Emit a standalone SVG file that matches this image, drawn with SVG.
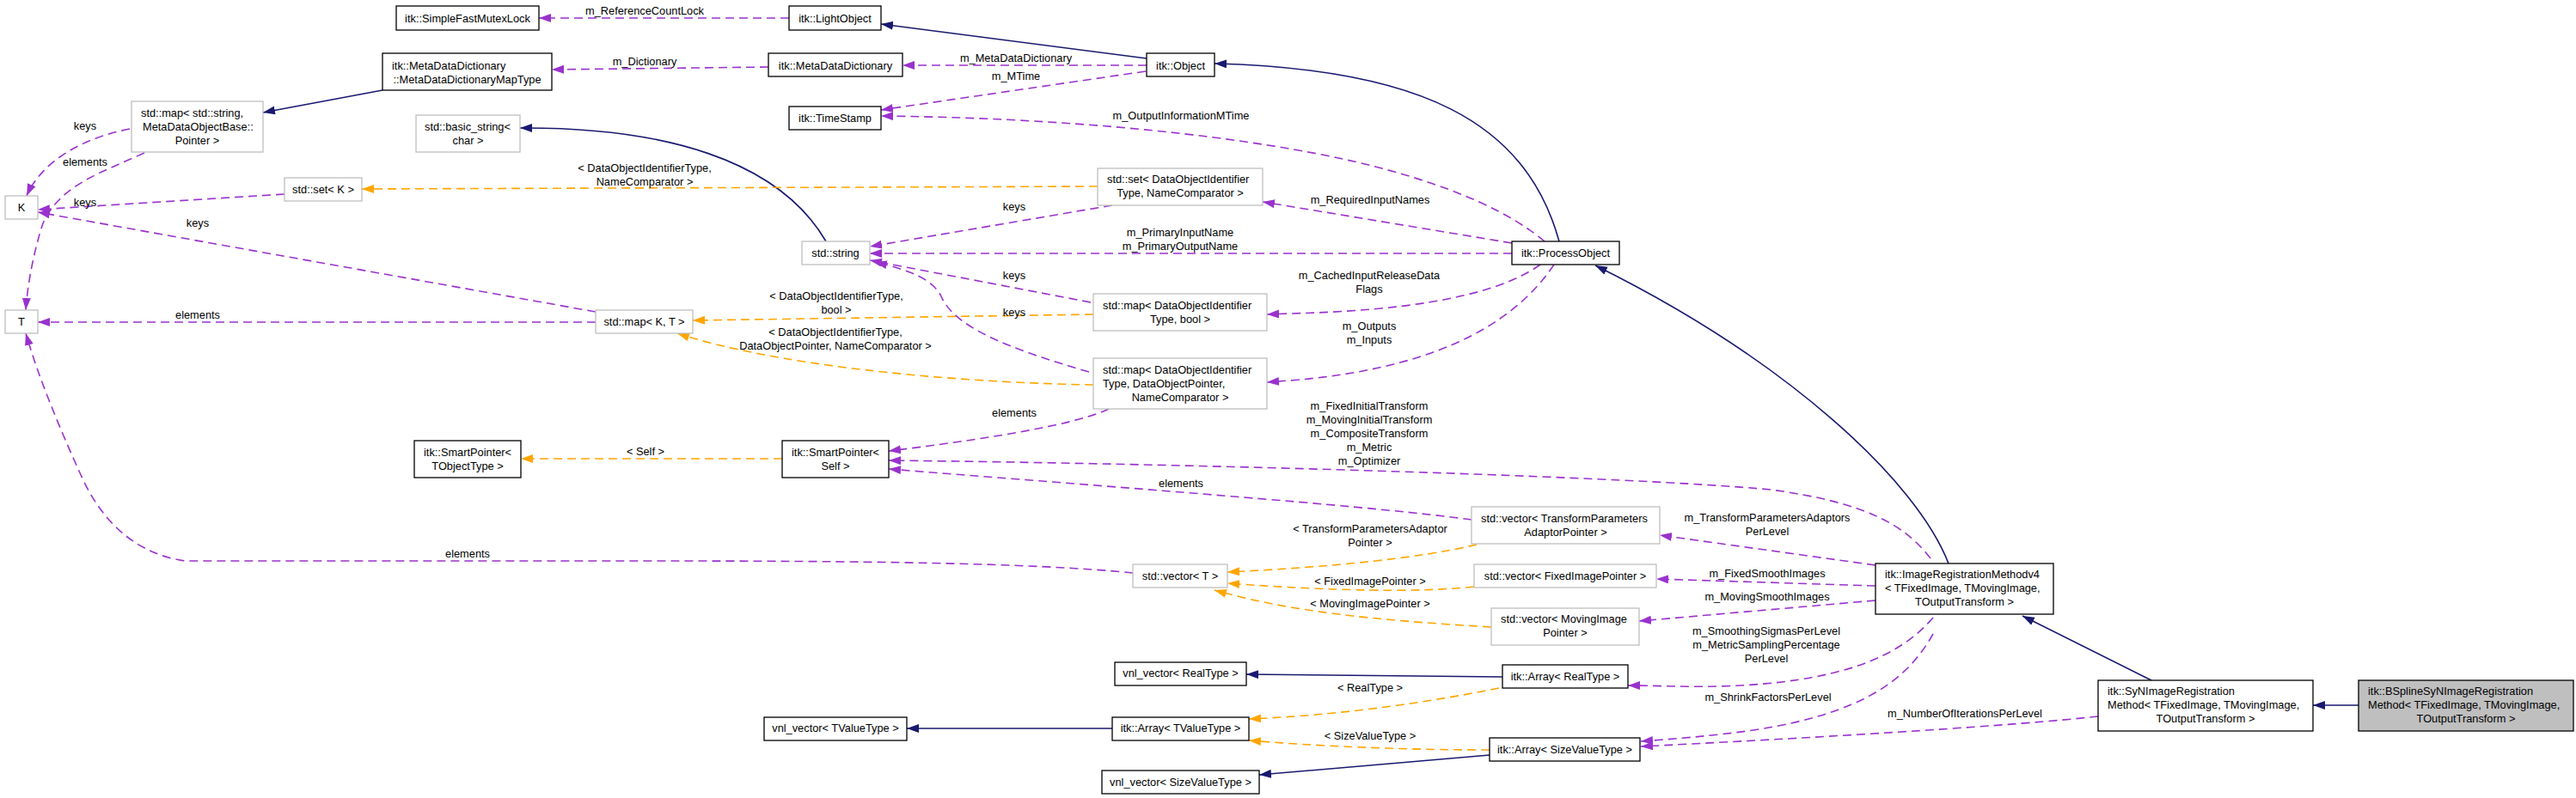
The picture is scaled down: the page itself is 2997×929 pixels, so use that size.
<svg xmlns="http://www.w3.org/2000/svg" width="2997" height="929" viewBox="0 0 2997 929">
<style>
.n rect{fill:#fff;stroke:#000;stroke-width:1.3}
.g rect{fill:#fff;stroke:#bfbfbf;stroke-width:1.3}
.h rect{fill:#bfbfbf;stroke:#000;stroke-width:1.3}
text{font-family:"Liberation Sans",Arial,sans-serif;font-size:12.8px;fill:#000}
.c{text-anchor:middle}
.p{fill:none;stroke:#9a32cd;stroke-width:1.6;stroke-dasharray:10,6;marker-end:url(#ap)}
.o{fill:none;stroke:#ffa500;stroke-width:1.6;stroke-dasharray:10,6;marker-end:url(#ao)}
.b{fill:none;stroke:#191970;stroke-width:1.6;marker-end:url(#ab)}
</style>
<defs>
<marker id="ap" markerUnits="userSpaceOnUse" markerWidth="15" markerHeight="11" refX="14" refY="5" orient="auto"><path d="M0,0 L14,5 L0,10 Z" fill="#9a32cd"/></marker>
<marker id="ao" markerUnits="userSpaceOnUse" markerWidth="15" markerHeight="11" refX="14" refY="5" orient="auto"><path d="M0,0 L14,5 L0,10 Z" fill="#ffa500"/></marker>
<marker id="ab" markerUnits="userSpaceOnUse" markerWidth="15" markerHeight="11" refX="14" refY="5" orient="auto"><path d="M0,0 L14,5 L0,10 Z" fill="#191970"/></marker>
</defs>
<rect width="2997" height="929" fill="#fff"/>
<g id="edges">
<path class="p" d="M918,21 L627,21"/><text class="c" x="750" y="17">m_ReferenceCountLock</text>
<path class="b" d="M1334,68 L1025,28"/>
<path class="p" d="M1334,76 L1050,76"/><text class="c" x="1182" y="72">m_MetaDataDictionary</text>
<path class="p" d="M1333,83 L1025,128"/><text class="c" x="1182" y="93">m_MTime</text>
<path class="p" d="M894,78 L642,81"/><text class="c" x="750" y="76">m_Dictionary</text>
<path class="b" d="M445,105 L306,131"/>
<path class="b" d="M961,281 C905,185 770,148 605,149"/>
<path class="o" d="M1277,217 L421,220"/><text class="c" x="750" y="200">&lt; DataObjectIdentifierType,</text><text class="c" x="750" y="216">NameComparator &gt;</text>
<path class="p" d="M1294,239 L1012,287"/><text class="c" x="1180" y="245">keys</text>
<path class="p" d="M1759,295 L1012,295"/><text class="c" x="1373" y="275">m_PrimaryInputName</text><text class="c" x="1373" y="291">m_PrimaryOutputName</text>
<path class="p" d="M1797,281 C1760,250 1700,220 1600,194 C1500,168 1300,138 1025,135"/><text class="c" x="1374" y="139">m_OutputInformationMTime</text>
<path class="p" d="M1759,283 L1469,235"/><text class="c" x="1594" y="237">m_RequiredInputNames</text>
<path class="p" d="M1792,308 Q1720,360 1500,365 L1474,366"/><text class="c" x="1593" y="325">m_CachedInputReleaseData</text><text class="c" x="1593" y="341">Flags</text>
<path class="p" d="M1808,308 Q1730,425 1500,443 L1474,445"/><text class="c" x="1593" y="383.5">m_Outputs</text><text class="c" x="1593" y="399.5">m_Inputs</text>
<path class="b" d="M1814,281 C1775,140 1650,80 1413,74"/>
<path class="p" d="M1269,352 L1012,303"/><text class="c" x="1180" y="325">keys</text>
<path class="o" d="M1272,366 L806,373"/><text class="c" x="973" y="349">&lt; DataObjectIdentifierType,</text><text class="c" x="973" y="365">bool &gt;</text>
<path class="p" d="M1267,433 C1170,405 1110,380 1095,345 C1085,325 1060,315 1018,305"/><text class="c" x="1180" y="368">keys</text>
<path class="o" d="M1272,448 C1100,445 900,425 788,388"/><text class="c" x="972" y="391">&lt; DataObjectIdentifierType,</text><text class="c" x="972" y="407">DataObjectPointer, NameComparator &gt;</text>
<path class="p" d="M693,363 L44,247"/><text class="c" x="230" y="264">keys</text>
<path class="p" d="M693,375 L44,375"/><text class="c" x="230" y="371">elements</text>
<path class="p" d="M331,226 L44,244"/><text class="c" x="99" y="240">keys</text>
<path class="p" d="M151,150 C100,160 50,185 31,228"/><text class="c" x="99" y="151">keys</text>
<path class="p" d="M168,178 C120,200 70,215 50,260 C40,290 32,330 30,361"/><text class="c" x="99" y="193">elements</text>
<path class="p" d="M1318,667 C1200,655 1000,653 750,653 L215,653 C160,645 120,610 95,555 C70,500 45,440 30,388"/><text class="c" x="544" y="649">elements</text>
<path class="o" d="M910,534 L606,534"/><text class="c" x="751" y="530">&lt; Self &gt;</text>
<path class="p" d="M1290,476 Q1240,500 1034,525"/><text class="c" x="1180" y="485">elements</text>
<path class="p" d="M2246,650 C2215,610 2170,585 2060,570 C1900,555 1400,540 1034,536"/><text class="c" x="1593" y="477">m_FixedInitialTransform</text><text class="c" x="1593" y="493">m_MovingInitialTransform</text><text class="c" x="1593" y="509">m_CompositeTransform</text><text class="c" x="1593" y="525">m_Metric</text><text class="c" x="1593" y="541">m_Optimizer</text>
<path class="p" d="M1712,605 C1600,590 1400,575 1034,546"/><text class="c" x="1374" y="567">elements</text>
<path class="o" d="M1718,634 C1650,650 1550,660 1428,666"/><text class="c" x="1594" y="619.5">&lt; TransformParametersAdaptor</text><text class="c" x="1594" y="635.5">Pointer &gt;</text>
<path class="o" d="M1715,683 C1650,690 1550,688 1428,679"/><text class="c" x="1594" y="681">&lt; FixedImagePointer &gt;</text>
<path class="o" d="M1735,730 C1600,722 1500,712 1413,687"/><text class="c" x="1594" y="707">&lt; MovingImagePointer &gt;</text>
<path class="p" d="M2182,658 L1931,623"/><text class="c" x="2056" y="607">m_TransformParametersAdaptors</text><text class="c" x="2056" y="623">PerLevel</text>
<path class="p" d="M2182,682 L1927,674"/><text class="c" x="2056" y="672">m_FixedSmoothImages</text>
<path class="p" d="M2182,699 L1907,723"/><text class="c" x="2056" y="699">m_MovingSmoothImages</text>
<path class="p" d="M2249,719 C2210,765 2140,795 2000,799 C1960,800 1930,798 1894,798"/><text class="c" x="2055" y="739">m_SmoothingSigmasPerLevel</text><text class="c" x="2055" y="755">m_MetricSamplingPercentage</text><text class="c" x="2055" y="771">PerLevel</text>
<path class="p" d="M2249,738 C2220,790 2170,830 2040,850 C1990,857 1950,860 1909,863"/><text class="c" x="2057" y="816">m_ShrinkFactorsPerLevel</text>
<path class="p" d="M2441,834 C2350,844 2150,857 1909,869"/><text class="c" x="2286" y="835">m_NumberOfIterationsPerLevel</text>
<path class="b" d="M1748,788 L1450,785"/>
<path class="o" d="M1744,801 C1650,820 1550,833 1453,837"/><text class="c" x="1594" y="804.5">&lt; RealType &gt;</text>
<path class="o" d="M1733,873 C1650,873 1550,870 1453,862"/><text class="c" x="1594" y="861">&lt; SizeValueType &gt;</text>
<path class="b" d="M1733,879 L1465,902"/>
<path class="b" d="M1294,848 L1055,848"/>
<path class="b" d="M2267,656 C2230,560 2080,420 1856,309"/>
<path class="b" d="M2503,792 L2353,717"/>
<path class="b" d="M2744,821 L2691,821"/>
</g>
<g id="n_sfml" class="n"><rect x="461" y="7" width="166" height="28"/><text class="c" x="544" y="25.5">itk::SimpleFastMutexLock</text></g>
<g id="n_lightobject" class="n"><rect x="918" y="7" width="107" height="28"/><text class="c" x="971.5" y="25.5">itk::LightObject</text></g>
<g id="n_mddmaptype" class="n"><rect x="445" y="62" width="197" height="43"/><text x="456" y="80.5">itk::MetaDataDictionary</text><text class="c" x="543.5" y="96.5">::MetaDataDictionaryMapType</text></g>
<g id="n_mdd" class="n"><rect x="894" y="62" width="156" height="27"/><text class="c" x="972" y="80.5">itk::MetaDataDictionary</text></g>
<g id="n_object" class="n"><rect x="1334" y="62" width="79" height="27"/><text class="c" x="1373.5" y="80.5">itk::Object</text></g>
<g id="n_timestamp" class="n"><rect x="918" y="124" width="107" height="27"/><text class="c" x="971.5" y="142">itk::TimeStamp</text></g>
<g id="n_map_string" class="g"><rect x="153" y="118" width="153" height="59"/><text x="164" y="136">std::map&lt; std::string,</text><text x="166" y="152">MetaDataObjectBase::</text><text class="c" x="229.5" y="168">Pointer &gt;</text></g>
<g id="n_basic_string" class="g"><rect x="484" y="134" width="121" height="43"/><text x="494" y="152">std::basic_string&lt;</text><text class="c" x="544.5" y="168">char &gt;</text></g>
<g id="n_set_k" class="g"><rect x="331" y="207" width="90" height="27"/><text class="c" x="376" y="224.5">std::set&lt; K &gt;</text></g>
<g id="n_k" class="g"><rect x="6" y="228" width="38" height="27"/><text class="c" x="25" y="245.5">K</text></g>
<g id="n_t" class="g"><rect x="6" y="361" width="38" height="27"/><text class="c" x="25" y="379">T</text></g>
<g id="n_map_kt" class="g"><rect x="693" y="361" width="113" height="27"/><text class="c" x="749.5" y="379">std::map&lt; K, T &gt;</text></g>
<g id="n_set_doi" class="g"><rect x="1277" y="196" width="192" height="43"/><text x="1288" y="213">std::set&lt; DataObjectIdentifier</text><text class="c" x="1373" y="229">Type, NameComparator &gt;</text></g>
<g id="n_string" class="g"><rect x="933" y="281" width="79" height="27"/><text class="c" x="972" y="299">std::string</text></g>
<g id="n_processobject" class="n"><rect x="1759" y="281" width="125" height="27"/><text class="c" x="1821.5" y="299">itk::ProcessObject</text></g>
<g id="n_map_doi_bool" class="g"><rect x="1272" y="342" width="202" height="43"/><text x="1283" y="360">std::map&lt; DataObjectIdentifier</text><text class="c" x="1373" y="376">Type, bool &gt;</text></g>
<g id="n_map_doi_ptr" class="g"><rect x="1272" y="417" width="202" height="59"/><text x="1283" y="435">std::map&lt; DataObjectIdentifier</text><text x="1283" y="451">Type, DataObjectPointer,</text><text class="c" x="1373" y="467">NameComparator &gt;</text></g>
<g id="n_sp_tobj" class="n"><rect x="482" y="513" width="124" height="43"/><text x="493" y="531">itk::SmartPointer&lt;</text><text class="c" x="544" y="547">TObjectType &gt;</text></g>
<g id="n_sp_self" class="n"><rect x="910" y="513" width="124" height="43"/><text x="921" y="531">itk::SmartPointer&lt;</text><text class="c" x="972" y="547">Self &gt;</text></g>
<g id="n_vec_t" class="g"><rect x="1318" y="657" width="110" height="27"/><text class="c" x="1373" y="675">std::vector&lt; T &gt;</text></g>
<g id="n_vec_tpa" class="g"><rect x="1712" y="590" width="219" height="43"/><text x="1723" y="608">std::vector&lt; TransformParameters</text><text class="c" x="1821.5" y="624">AdaptorPointer &gt;</text></g>
<g id="n_vec_fip" class="g"><rect x="1715" y="657" width="212" height="27"/><text class="c" x="1821" y="675">std::vector&lt; FixedImagePointer &gt;</text></g>
<g id="n_vec_mip" class="g"><rect x="1735" y="708" width="172" height="43"/><text x="1746" y="725">std::vector&lt; MovingImage</text><text class="c" x="1821" y="741">Pointer &gt;</text></g>
<g id="n_vnl_real" class="n"><rect x="1297" y="771" width="153" height="27"/><text class="c" x="1373.5" y="788">vnl_vector&lt; RealType &gt;</text></g>
<g id="n_arr_real" class="n"><rect x="1748" y="774" width="146" height="27"/><text class="c" x="1821" y="792">itk::Array&lt; RealType &gt;</text></g>
<g id="n_vnl_tvalue" class="n"><rect x="889" y="835" width="166" height="27"/><text class="c" x="972" y="852">vnl_vector&lt; TValueType &gt;</text></g>
<g id="n_arr_tvalue" class="n"><rect x="1294" y="835" width="159" height="27"/><text class="c" x="1373.5" y="852">itk::Array&lt; TValueType &gt;</text></g>
<g id="n_arr_size" class="n"><rect x="1733" y="859" width="175" height="27"/><text class="c" x="1820.5" y="876.5">itk::Array&lt; SizeValueType &gt;</text></g>
<g id="n_vnl_size" class="n"><rect x="1282" y="897" width="183" height="27"/><text class="c" x="1373.5" y="915">vnl_vector&lt; SizeValueType &gt;</text></g>
<g id="n_irm" class="n"><rect x="2182" y="656" width="207" height="59"/><text x="2193" y="673">itk::ImageRegistrationMethodv4</text><text x="2193" y="689">&lt; TFixedImage, TMovingImage,</text><text class="c" x="2285.5" y="705">TOutputTransform &gt;</text></g>
<g id="n_syn" class="n"><rect x="2441" y="792" width="250" height="59"/><text x="2452" y="809">itk::SyNImageRegistration</text><text x="2452" y="825">Method&lt; TFixedImage, TMovingImage,</text><text class="c" x="2566" y="841">TOutputTransform &gt;</text></g>
<g id="n_bspline" class="h"><rect x="2744" y="792" width="250" height="59"/><text x="2755" y="809">itk::BSplineSyNImageRegistration</text><text x="2755" y="825">Method&lt; TFixedImage, TMovingImage,</text><text class="c" x="2869" y="841">TOutputTransform &gt;</text></g>
</svg>
